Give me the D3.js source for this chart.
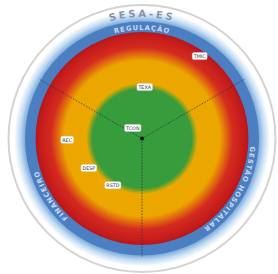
<!DOCTYPE html>
<html>
<head>
<meta charset="utf-8">
<script src="https://cdn.jsdelivr.net/npm/d3@7"></script>
<style>
  body { margin: 0; background: #fff; }
  svg { display: block; font-family: 'DejaVu Sans', sans-serif; }
</style>
</head>
<body>
<script>
// setores da mandala (ângulo em graus, sentido horário a partir do topo)
const sectors = ['REGULAÇÃO', 'GESTÃO HOSPITALAR', 'FINANCEIRO']
const sectorAngles = [0, 120, 238]
const dividerAngles = [60, 180, 300]

// faixas de desempenho (nota 0-10): verde, amarelo, vermelho, borda azul
const zoneNames = ['verde', 'amarelo', 'vermelho', 'setores']
const zoneLimits = [4.5, 7.0, 9.1, 10]

// indicadores
const indicators = ['TMIC', 'TEXA', 'TCON', 'REC', 'DESP', 'RSTD']
const indicatorAngles = [35, 3, 319, 269, 241, 212]
const indicatorScores = [8.6, 4.4, 1.2, 6.4, 5.2, 4.7]

const title = 'SESA-ES'

function drawChart() {
  const width = 278, height = 274
  const cx = 142, cy = 138.5

  const r = d3.scaleLinear().domain([0, 10]).range([0, 117])

  const svg = d3.select('body').append('svg')
    .attr('width', width)
    .attr('height', height)

  const defs = svg.append('defs')

  const polar = (deg, rad) => {
    const a = deg * Math.PI / 180
    return [cx + rad * Math.sin(a), cy - rad * Math.cos(a)]
  }

  // brilho externo
  const glowR = 132
  const glow = defs.append('radialGradient').attr('id', 'glow')
    .attr('gradientUnits', 'userSpaceOnUse')
    .attr('cx', cx).attr('cy', cy).attr('r', glowR)
  glow.append('stop').attr('offset', r(10) / glowR).attr('stop-color', '#7eaddf')
  glow.append('stop').attr('offset', (r(10) + 5) / glowR).attr('stop-color', '#c2dbf2')
  glow.append('stop').attr('offset', (r(10) + 11) / glowR).attr('stop-color', '#ffffff')
  glow.append('stop').attr('offset', 1).attr('stop-color', '#ffffff')

  svg.append('circle')
    .attr('cx', cx).attr('cy', cy).attr('r', glowR)
    .attr('fill', 'url(#glow)')

  svg.append('circle')
    .attr('cx', cx).attr('cy', cy).attr('r', 133.5)
    .attr('fill', 'none')
    .attr('stroke', '#d3d3d3')
    .attr('stroke-width', 2)

  // borda azul dos setores
  svg.append('circle')
    .attr('cx', cx).attr('cy', cy).attr('r', r(zoneLimits[3]))
    .attr('fill', '#4b7fc1')

  // faixas verde / amarelo / vermelho
  const outer = r(zoneLimits[2])
  const zones = defs.append('radialGradient').attr('id', 'zones')
    .attr('gradientUnits', 'userSpaceOnUse')
    .attr('cx', cx).attr('cy', cy).attr('r', outer)
  const stops = [
    [0, '#359c3c'],
    [r(zoneLimits[0]) - 3, '#389c3c'],
    [r(zoneLimits[0]) + 3, '#eaa800'],
    [r(zoneLimits[1]) - 4, '#eca600'],
    [r(zoneLimits[1]) + 9, '#d42b1f'],
    [outer - 4, '#c41b1c'],
    [outer, '#b5161b']
  ]
  stops.forEach(s => zones.append('stop')
    .attr('offset', s[0] / outer)
    .attr('stop-color', s[1]))

  svg.append('circle')
    .attr('cx', cx).attr('cy', cy).attr('r', outer)
    .attr('fill', 'url(#zones)')

  // linhas divisórias
  svg.selectAll('.divider')
    .data(dividerAngles)
    .enter().append('line')
    .attr('class', 'divider')
    .attr('x1', cx).attr('y1', cy)
    .attr('x2', d => polar(d, r(10) + 1)[0])
    .attr('y2', d => polar(d, r(10) + 1)[1])
    .attr('stroke', '#2a2f3a')
    .attr('stroke-width', 0.8)
    .attr('stroke-dasharray', '1.6,1.4')
    .attr('opacity', 0.85)

  svg.append('circle')
    .attr('cx', cx).attr('cy', cy).attr('r', 2)
    .attr('fill', '#111')

  // caminhos circulares para os textos (começa embaixo, sentido horário)
  function ringPath(id, rad) {
    defs.append('path').attr('id', id)
      .attr('d', 'M' + cx + ',' + (cy + rad) +
        'A' + rad + ',' + rad + ' 0 1 1 ' + cx + ',' + (cy - rad) +
        'A' + rad + ',' + rad + ' 0 1 1 ' + cx + ',' + (cy + rad))
  }
  ringPath('sectorRing', 108.5)
  ringPath('titleRing', 121.5)

  const offset = deg => (((deg - 180) % 360 + 360) % 360) / 360 * 100 + '%'

  svg.append('text')
    .attr('font-size', 10)
    .attr('font-weight', 'bold')
    .attr('letter-spacing', 2.6)
    .attr('fill', '#8495ab')
    .attr('text-anchor', 'middle')
    .append('textPath')
    .attr('href', '#titleRing')
    .attr('startOffset', offset(0))
    .text(title)

  svg.selectAll('.sector')
    .data(sectors)
    .enter().append('text')
    .attr('class', 'sector')
    .attr('font-size', 6.8)
    .attr('font-weight', 'bold')
    .attr('letter-spacing', 1)
    .attr('fill', '#c9d9ef')
    .attr('text-anchor', 'middle')
    .append('textPath')
    .attr('href', '#sectorRing')
    .attr('startOffset', (d, i) => offset(sectorAngles[i]))
    .text(d => d)

  // etiquetas dos indicadores
  const tags = svg.selectAll('.tag')
    .data(indicators)
    .enter().append('g')
    .attr('class', 'tag')
    .attr('transform', (d, i) => {
      const p = polar(indicatorAngles[i], r(indicatorScores[i]))
      return 'translate(' + p[0] + ',' + p[1] + ')'
    })

  tags.append('rect')
    .attr('fill', '#ffffff')
    .attr('stroke', '#d8d8d8')
    .attr('stroke-width', 0.4)
    .attr('rx', 1.5)

  const labels = tags.append('text')
    .attr('font-size', 4.8)
    .attr('fill', '#2b3550')
    .attr('text-anchor', 'middle')
    .attr('dy', '0.36em')
    .text(d => d)

  labels.each(function() {
    const w = this.getComputedTextLength() + 3
    d3.select(this.previousSibling)
      .attr('x', -w / 2).attr('y', -3.5)
      .attr('width', w).attr('height', 7)
  })
}

drawChart()
</script>
</body>
</html>
